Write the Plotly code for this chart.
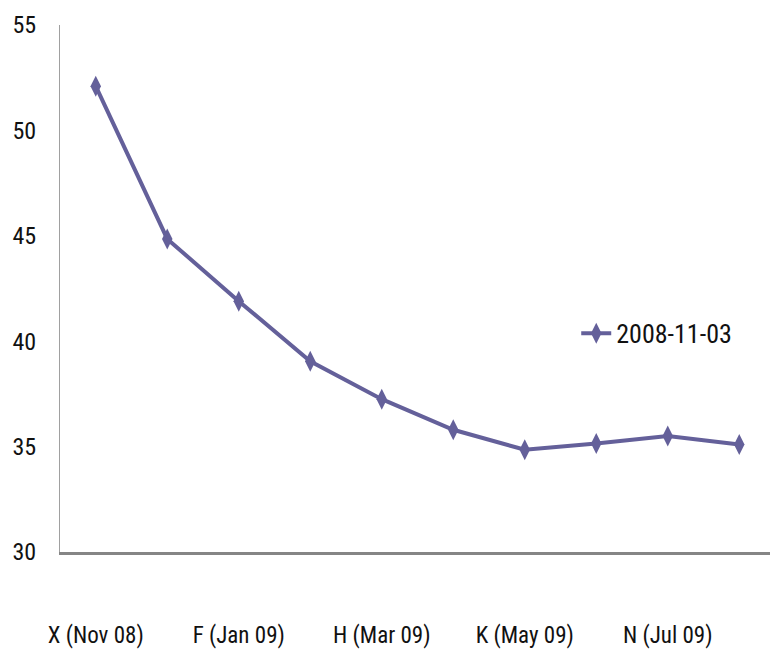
import plotly.graph_objects as go

categories = ["X (Nov 08)", "Z (Dec 08)", "F (Jan 09)", "G (Feb 09)", "H (Mar 09)",
              "J (Apr 09)", "K (May 09)", "M (Jun 09)", "N (Jul 09)", "Q (Aug 09)"]
values = [52.1, 44.85, 41.9, 39.05, 37.25, 35.8, 34.85, 35.15, 35.5, 35.1]
series_name = "2008-11-03"
tick_labels = ["X (Nov 08)", "F (Jan 09)", "H (Mar 09)", "K (May 09)", "N (Jul 09)"]

FONT = "Roboto Condensed, Liberation Sans Narrow, sans-serif"
COLOR = "#64609A"

fig = go.Figure()
fig.add_trace(go.Scatter(
    x=categories, y=values, name=series_name, mode="lines+markers",
    line=dict(color=COLOR, width=4),
    marker=dict(symbol="diamond-tall", size=15, color=COLOR),
))

# page body has an 8px default margin, so the figure is sized to fit the window
fig.update_layout(
    width=770, height=649,
    margin=dict(l=52, r=3, t=17, b=105, autoexpand=False),
    paper_bgcolor="white", plot_bgcolor="white",
    font=dict(family=FONT, size=24, color="#111111"),
    showlegend=True,
    legend=dict(x=0.722, y=0.415, xanchor="left", yanchor="middle",
                font=dict(family=FONT, size=26, color="#111111"),
                bgcolor="rgba(0,0,0,0)"),
    xaxis=dict(
        type="category", range=[-0.5, 9.5], automargin=False,
        tickmode="array", tickvals=tick_labels, ticktext=tick_labels,
        tickfont=dict(size=23),
        showgrid=False, showline=True, linecolor="#858585", linewidth=3,
        ticks="", ticklabelstandoff=60, zeroline=False,
    ),
    yaxis=dict(
        range=[30, 55], dtick=5, showgrid=False, showline=True, automargin=False,
        linecolor="#A0A0A0", linewidth=1, ticks="", ticklabelstandoff=18,
        tickfont=dict(size=24),
        zeroline=False,
    ),
)

fig.write_html("out.html")
